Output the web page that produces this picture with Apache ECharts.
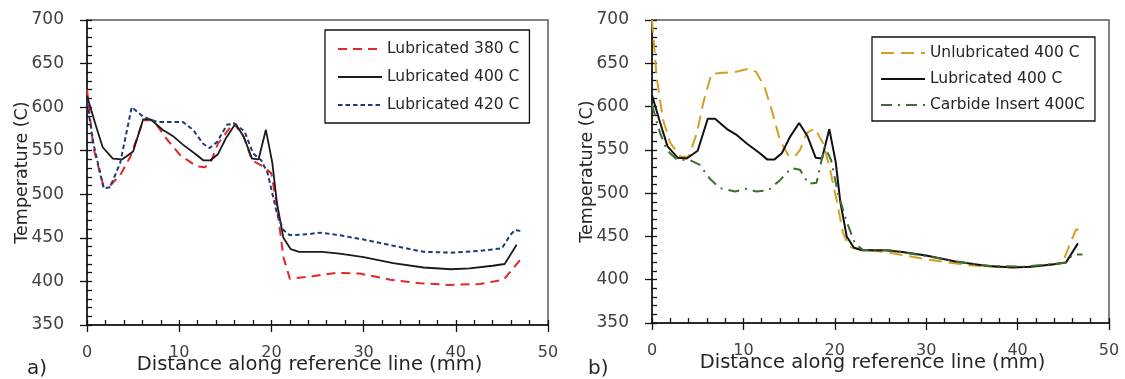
<!DOCTYPE html>
<html>
<head>
<meta charset="utf-8">
<script src="https://cdn.jsdelivr.net/npm/echarts@6/dist/echarts.min.js"></script>
<style>
  html, body { margin: 0; padding: 0; background: #fff; }
  #chart { width: 1125px; height: 379px; }
</style>
</head>
<body>
<div id="chart"></div>
<script>
// distance along reference line (mm) / temperature (C)
const lub380X = [0, 0.7, 1.8, 2.5, 3.6, 4.7, 6.1, 7.2, 8.6, 10.1, 11.9, 12.8, 13.5, 14.2, 15.9, 17.0, 17.9, 19.1, 20.0, 20.6, 21.3, 22.0, 24.5, 27.1, 29.6, 32.9, 36.1, 39.4, 42.6, 45.2, 47.0];
const lub380Y = [620, 553, 509, 510, 522, 543, 585, 585, 564, 545, 532, 531, 539, 558, 582, 566, 539, 532, 524, 486, 428, 403, 406, 410, 409, 402, 398, 396, 397, 402, 425];

const lub400X = [0, 0.9, 1.7, 2.8, 3.8, 5.0, 6.1, 6.9, 8.2, 9.3, 10.4, 11.8, 12.6, 13.4, 14.2, 15.1, 16.1, 17.0, 17.9, 18.6, 19.4, 20.1, 20.6, 21.3, 22.1, 23.0, 25.5, 27.4, 30.0, 33.2, 36.5, 39.5, 41.5, 44.0, 45.3, 46.6];
const lub400Y = [613, 581, 554, 541, 540, 549, 586, 586, 574, 567, 557, 546, 539, 539, 546, 565, 581, 566, 541, 540, 574, 536, 490, 450, 437, 434, 434, 432, 428, 421, 416, 414, 415, 418, 420, 442];

const lub420X = [0, 0.7, 1.8, 2.5, 3.6, 4.85, 6.1, 7.6, 9.0, 10.4, 11.5, 12.6, 13.3, 14.1, 15.2, 16.0, 17.1, 18.0, 18.9, 19.6, 20.6, 21.3, 22.0, 23.8, 25.3, 27.4, 30.0, 33.2, 36.5, 39.4, 42.6, 45.0, 45.9, 46.4, 47.0];
const lub420Y = [606, 558, 507, 508, 536, 600, 589, 583, 583, 583, 574, 558, 553, 560, 580, 581, 572, 547, 539, 524, 478, 459, 453, 454, 456, 453, 448, 441, 434, 433, 435, 438, 453, 459, 458];

const unlubX = [0, 0.5, 1.2, 2.0, 3.1, 4.0, 4.9, 5.6, 6.5, 7.8, 9.1, 10.7, 11.4, 12.3, 13.1, 14.0, 14.9, 15.6, 16.2, 16.9, 17.8, 18.7, 19.4, 20.2, 20.9, 21.6, 22.7, 25.6, 30.3, 34.4, 38.7, 42.4, 44.9, 45.6, 46.4, 47.1];
const unlubY = [700, 635, 585, 558, 542, 542, 569, 604, 638, 639, 640, 644, 640, 623, 596, 561, 544, 542, 550, 569, 575, 558, 531, 492, 454, 438, 435, 432, 423, 417, 414, 416, 419, 438, 458, 458];

const carbX = [0, 0.9, 1.6, 2.7, 4.15, 5.2, 6.3, 7.4, 9.1, 10.3, 11.4, 12.7, 14.0, 15.25, 16.2, 17.1, 18.0, 18.9, 19.6, 20.35, 21.3, 22.2, 23.1, 26.0, 29.6, 33.3, 36.9, 40.5, 43.8, 45.3, 46.0, 47.1];
const carbY = [602, 569, 550, 539, 538, 533, 517, 506, 502, 505, 502, 503, 515, 529, 527, 511, 512, 554, 538, 500, 467, 442, 434, 434, 428, 421, 416, 415, 418, 420, 429, 429];

const xTicks = [0, 10, 20, 30, 40, 50];
const yTicks = [350, 400, 450, 500, 550, 600, 650, 700];
const panelLabels = ["a)", "b)"];

const FONT = "DejaVu Sans";
const zip = (xs, ys) => xs.map((x, i) => [x, ys[i]]);

const grids = [
  { left: 87, top: 20, width: 461, height: 305 },
  { left: 652, top: 20, width: 457, height: 303 },
];

function mainX(gridIndex) {
  return {
    type: "value",
    gridIndex,
    position: "bottom",
    min: xTicks[0],
    max: xTicks[xTicks.length - 1],
    interval: 10,
    name: "Distance along reference line (mm)",
    nameLocation: "middle",
    nameMoveOverlap: false,
    nameGap: 30,
    nameTextStyle: { fontFamily: FONT, fontSize: 19.5, color: "#262626", padding: [0, 16, 0, 0] },
    axisLine: { onZero: false, lineStyle: { color: "#111", width: 1.5 } },
    axisTick: { inside: true, length: 5, lineStyle: { color: "#111", width: 1.3 } },
    minorTick: { show: true, splitNumber: 5, length: 5, lineStyle: { color: "#111", width: 1.3 } },
    axisLabel: { fontFamily: FONT, fontSize: 16, color: "#404040", margin: 20 },
    splitLine: { show: false },
  };
}

function outerX(gridIndex) {
  return {
    type: "value",
    gridIndex,
    position: "bottom",
    min: xTicks[0],
    max: xTicks[xTicks.length - 1],
    interval: 10,
    axisLine: { show: false, onZero: false },
    axisTick: { inside: false, length: 7, lineStyle: { color: "#111", width: 1.3 } },
    axisLabel: { show: false },
    splitLine: { show: false },
  };
}

function mainY(gridIndex) {
  return {
    type: "value",
    gridIndex,
    position: "left",
    min: yTicks[0],
    max: yTicks[yTicks.length - 1],
    interval: 50,
    name: "Temperature (C)",
    nameLocation: "middle",
    nameMoveOverlap: false,
    nameGap: 56,
    nameTextStyle: { fontFamily: FONT, fontSize: 17.5, color: "#262626" },
    axisLine: { onZero: false, lineStyle: { color: "#111", width: 1.5 } },
    axisTick: { inside: true, length: 5, lineStyle: { color: "#111", width: 1.3 } },
    minorTick: { show: true, splitNumber: 5, length: 5, lineStyle: { color: "#111", width: 1.3 } },
    axisLabel: { fontFamily: FONT, fontSize: 17, color: "#404040", margin: 23 },
    splitLine: { show: false },
  };
}

function outerY(gridIndex) {
  return {
    type: "value",
    gridIndex,
    position: "left",
    min: yTicks[0],
    max: yTicks[yTicks.length - 1],
    interval: 50,
    axisLine: { show: false, onZero: false },
    axisTick: { inside: false, length: 7, lineStyle: { color: "#111", width: 1.3 } },
    axisLabel: { show: false },
    splitLine: { show: false },
  };
}

function line(name, data, axis, color, width, type) {
  return {
    name,
    type: "line",
    xAxisIndex: axis,
    yAxisIndex: axis,
    data,
    symbol: "none",
    smooth: false,
    silent: true,
    animation: false,
    lineStyle: { color, width, type, cap: "butt" },
    itemStyle: { color },
  };
}

const legendBase = {
  orient: "vertical",
  borderColor: "#111",
  borderWidth: 1.3,
  itemWidth: 44,
  itemHeight: 14,
  itemStyle: { opacity: 0 },
  textStyle: { fontFamily: FONT, fontSize: 15.5, color: "#262626" },
  selectedMode: false,
};

const option = {
  backgroundColor: "#fff",
  animation: false,
  title: [
    { text: panelLabels[0], left: 22, top: 354, textStyle: { fontFamily: FONT, fontSize: 20, fontWeight: "normal", color: "#262626" } },
    { text: panelLabels[1], left: 583, top: 354, textStyle: { fontFamily: FONT, fontSize: 20, fontWeight: "normal", color: "#262626" } },
  ],
  grid: grids.map((g) => ({
    ...g,
    outerBoundsMode: "none",
    containLabel: false,
    show: true,
    borderColor: "#595959",
    borderWidth: 1.5,
    backgroundColor: "transparent",
  })),
  legend: [
    {
      ...legendBase,
      data: ["Lubricated 380 C", "Lubricated 400 C", "Lubricated 420 C"],
      left: 325,
      top: 30,
      padding: [11, 10, 10, 12],
      itemGap: 12,
    },
    {
      ...legendBase,
      data: ["Unlubricated 400 C", "Lubricated 400 C ", "Carbide Insert 400C"],
      left: 872,
      top: 37,
      padding: [8, 10, 8, 8],
      itemGap: 10,
    },
  ],
  xAxis: [mainX(0), mainX(1), outerX(0), outerX(1)],
  yAxis: [mainY(0), mainY(1), outerY(0), outerY(1)],
  series: [
    line("Lubricated 380 C", zip(lub380X, lub380Y), 0, "#e0282c", 2, [9, 6]),
    line("Lubricated 400 C", zip(lub400X, lub400Y), 0, "#1a1a1a", 1.8, "solid"),
    line("Lubricated 420 C", zip(lub420X, lub420Y), 0, "#1f3a78", 2, [4.5, 3]),
    line("Unlubricated 400 C", zip(unlubX, unlubY), 1, "#d4a024", 2, [13, 7]),
    line("Lubricated 400 C ", zip(lub400X, lub400Y), 1, "#111111", 2, "solid"),
    line("Carbide Insert 400C", zip(carbX, carbY), 1, "#3f6e30", 2, [11, 6, 2, 6]),
  ],
};

const chart = echarts.init(document.getElementById("chart"), null, { renderer: "canvas" });
chart.setOption(option);
</script>
</body>
</html>
